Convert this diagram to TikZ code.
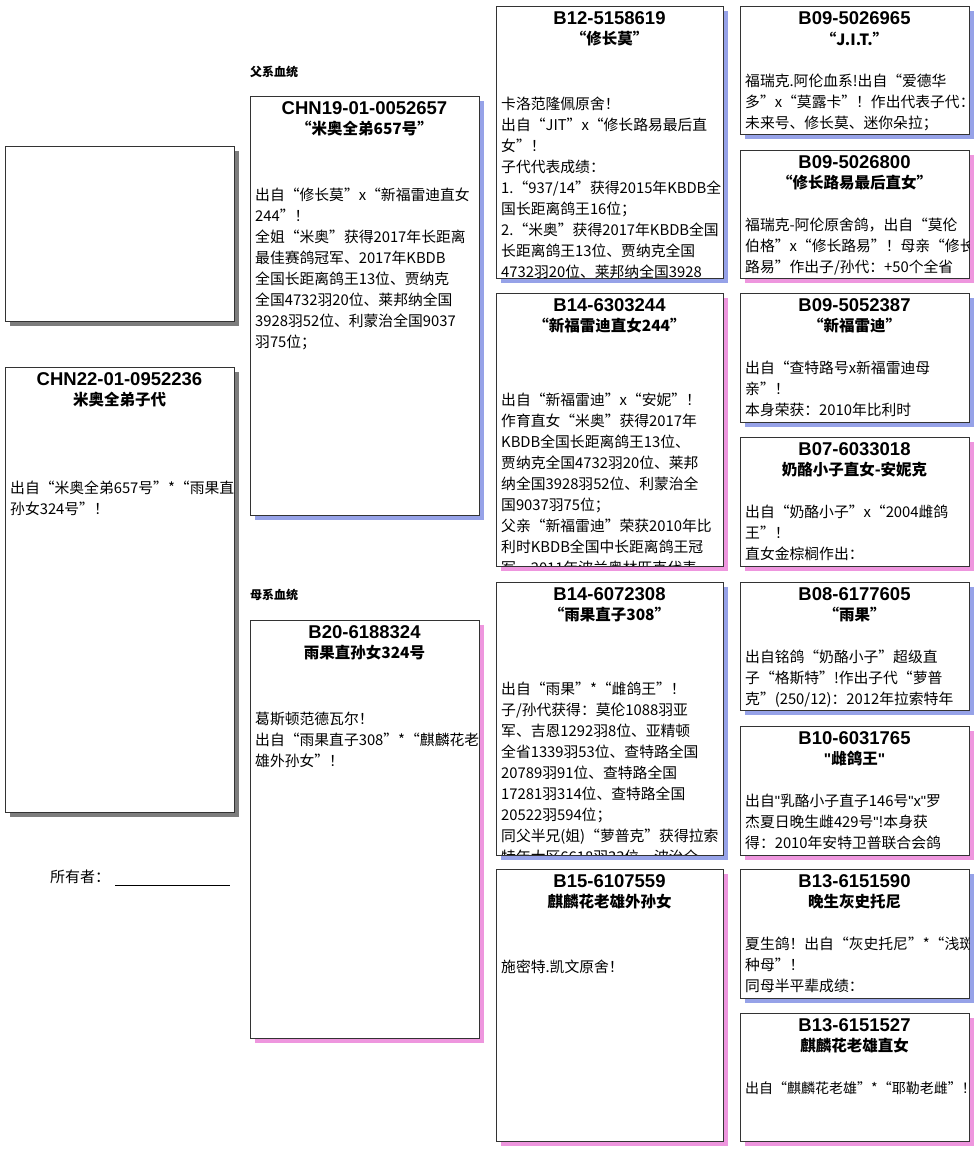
\documentclass[tikz,border=0pt]{standalone}
\usepackage{fontspec}
\setmainfont{Noto Sans CJK SC}
\newfontfamily\idfont{Liberation Sans}
\definecolor{shblue}{RGB}{150,162,232}
\definecolor{shpink}{RGB}{238,150,222}
\definecolor{shgray}{RGB}{125,125,125}
\newcommand{\dq}{{\idfont\char34}}
\tikzset{
  pbox/.style={draw=black!80,fill=white,line width=0.6pt},
  idtxt/.style={font=\idfont\bfseries\fontsize{18.5}{20}\selectfont,inner sep=0pt},
  nmtxt/.style={font=\bfseries\fontsize{15.5}{18}\selectfont,inner sep=0pt},
  bodytxt/.style={font=\fontsize{14.8}{21}\selectfont,inner sep=0pt,align=left,anchor=north west},
  lbl/.style={font=\bfseries\fontsize{12}{14}\selectfont,inner sep=0pt,anchor=west}
}
% #1 name, #2 x1, #3 y1, #4 x2, #5 y2, #6 shadow, #7 id, #8 title, #9 body offset
\newcommand{\pedbox}[9]{%
  \fill[#6] (#2+5,#3+5) rectangle (#4+5,#5+5);
  \node[pbox,minimum width=#4-#2,minimum height=#5-#3,anchor=north west,inner sep=0pt] (#1) at (#2,#3) {};
  \node[idtxt] (#1-id) at ({(#2+#4)/2},#3+12) {#7};
  \node[nmtxt] (#1-nm) at ({(#2+#4)/2},#3+33) {#8};
  \def\curx{#2}\def\cury{#3}\def\curxx{#4}\def\curyy{#5}\def\curoff{#9}%
}
\newcommand{\pedbody}[2]{%
  \begin{scope}
  \clip (\curx,\cury) rectangle (\curxx,\curyy-1);
  \node[bodytxt] (#1) at (\curx+5,\cury+\curoff) {#2};
  \end{scope}}
\begin{document}
\begin{tikzpicture}[x=1pt,y=-1pt]
\useasboundingbox (0,0) rectangle (976,1150);
% photo box
\fill[shgray] (10,151) rectangle (239,326);
\node[pbox,minimum width=229,minimum height=175,anchor=north west,inner sep=0pt] (photo) at (5,146) {};
% root
\pedbox{root}{5}{367}{234}{812}{shgray}{CHN22-01-0952236}{米奥全弟子代}{114}
\pedbody{rootb}{出自“米奥全弟657号”*“雨果直\\孙女324号”！}
\node[font=\fontsize{15}{18}\selectfont,anchor=west,inner sep=0pt] (owner) at (50,877) {所有者：};
\coordinate (ownA) at (115,885); \coordinate (ownB) at (230,885);
\draw[line width=0.6pt] (ownA) -- (ownB);
% labels
\node[lbl] (patl) at (250,72) {父系血统};
\node[lbl] (matl) at (250,595) {母系血统};
% gen 2
\pedbox{sire}{250}{96}{479}{515}{shblue}{CHN19-01-0052657}{“米奥全弟657号”}{92}
\pedbody{sireb}{出自“修长莫”x“新福雷迪直女\\244”！\\全姐“米奥”获得2017年长距离\\最佳赛鸽冠军、2017年KBDB\\全国长距离鸽王13位、贾纳克\\全国4732羽20位、莱邦纳全国\\3928羽52位、利蒙治全国9037\\羽75位；}
\pedbox{dam}{250}{620}{479}{1038}{shpink}{B20-6188324}{雨果直孙女324号}{92}
\pedbody{damb}{葛斯顿范德瓦尔！\\出自“雨果直子308”*“麒麟花老\\雄外孙女”！}
% gen 3
\pedbox{ss}{496}{6}{723}{278}{shblue}{B12-5158619}{“修长莫”}{91}
\pedbody{ssb}{卡洛范隆佩原舍！\\出自“JIT”x“修长路易最后直\\女”！\\子代代表成绩：\\1.“937/14”获得2015年KBDB全\\国长距离鸽王16位；\\2.“米奥”获得2017年KBDB全国\\长距离鸽王13位、贾纳克全国\\4732羽20位、莱邦纳全国3928}
\pedbox{sd}{496}{293}{723}{566}{shpink}{B14-6303244}{“新福雷迪直女244”}{100}
\pedbody{sdb}{出自“新福雷迪”x“安妮”！\\作育直女“米奥”获得2017年\\KBDB全国长距离鸽王13位、\\贾纳克全国4732羽20位、莱邦\\纳全国3928羽52位、利蒙治全\\国9037羽75位；\\父亲“新福雷迪”荣获2010年比\\利时KBDB全国中长距离鸽王冠\\军、2011年波兰奥林匹克代表}
\pedbox{ds}{496}{582}{723}{855}{shblue}{B14-6072308}{“雨果直子308”}{100}
\pedbody{dsb}{出自“雨果”*“雌鸽王”！\\子/孙代获得：莫伦1088羽亚\\军、吉恩1292羽8位、亚精顿\\全省1339羽53位、查特路全国\\20789羽91位、查特路全国\\17281羽314位、查特路全国\\20522羽594位；\\同父半兄(姐)“萝普克”获得拉索\\特年大区6618羽33位、波治全}
\pedbox{dd}{496}{869}{723}{1141}{shpink}{B15-6107559}{麒麟花老雄外孙女}{91}
\pedbody{ddb}{施密特.凯文原舍！}
% gen 4
\pedbox{sss}{740}{6}{969}{134}{shblue}{B09-5026965}{“J.I.T.”}{68}
\pedbody{sssb}{福瑞克.阿伦血系!出自“爱德华\\多”x“莫露卡”！作出代表子代：\\未来号、修长莫、迷你朵拉；}
\pedbox{ssd}{740}{150}{969}{278}{shpink}{B09-5026800}{“修长路易最后直女”}{68}
\pedbody{ssdb}{福瑞克-阿伦原舍鸽，出自“莫伦\\伯格”x“修长路易”！母亲“修长\\路易”作出子/孙代：+50个全省}
\pedbox{sds}{740}{293}{969}{422}{shblue}{B09-5052387}{“新福雷迪”}{68}
\pedbody{sdsb}{出自“查特路号x新福雷迪母\\亲”！\\本身荣获：2010年比利时}
\pedbox{sdd}{740}{437}{969}{566}{shpink}{B07-6033018}{奶酪小子直女-安妮克}{68}
\pedbody{sddb}{出自“奶酪小子”x“2004雌鸽\\王”！\\直女金棕榈作出：}
\pedbox{dss}{740}{582}{969}{710}{shblue}{B08-6177605}{“雨果”}{68}
\pedbody{dssb}{出自铭鸽“奶酪小子”超级直\\子“格斯特”!作出子代“萝普\\克”(250/12)：2012年拉索特年}
\pedbox{dsd}{740}{726}{969}{855}{shpink}{B10-6031765}{\dq 雌鸽王\dq}{68}
\pedbody{dsdb}{出自\dq 乳酪小子直子146号\dq x\dq 罗\\杰夏日晚生雌429号\dq !本身获\\得：2010年安特卫普联合会鸽}
\pedbox{dds}{740}{869}{969}{998}{shblue}{B13-6151590}{晚生灰史托尼}{68}
\pedbody{ddsb}{夏生鸽！出自“灰史托尼”*“浅斑\\种母”！\\同母半平辈成绩：}
\pedbox{ddd}{740}{1013}{969}{1141}{shpink}{B13-6151527}{麒麟花老雄直女}{68}
\pedbody{dddb}{{\fontsize{14}{21}\selectfont 出自“麒麟花老雄”*“耶勒老雌”！}}
\end{tikzpicture}
\end{document}
